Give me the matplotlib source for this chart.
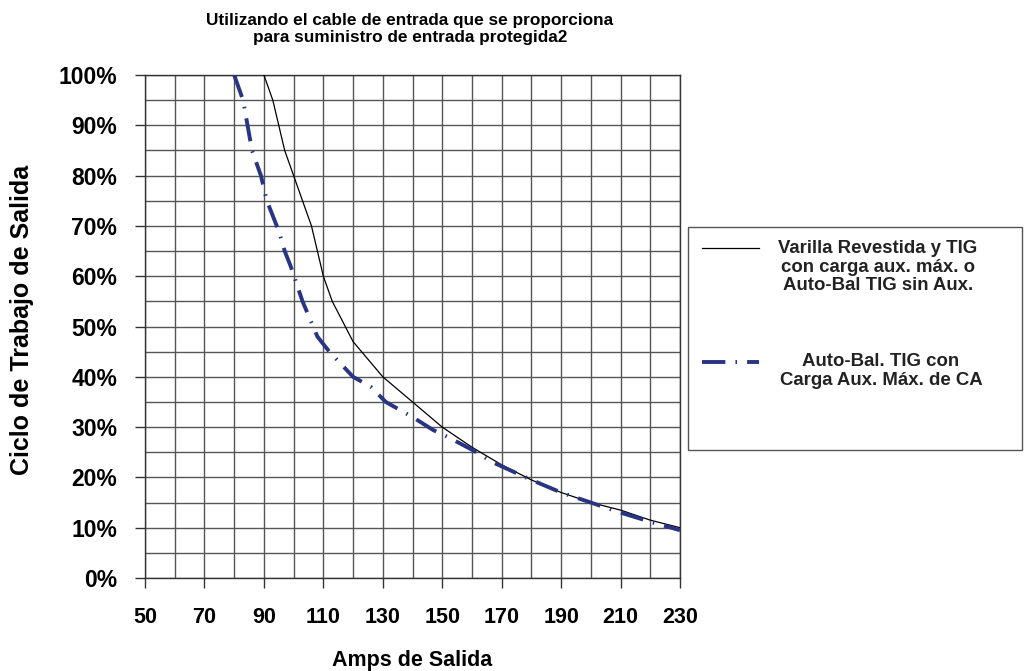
import matplotlib
matplotlib.use("Agg")
import matplotlib.pyplot as plt
from matplotlib.lines import Line2D
from matplotlib.patches import Rectangle
from matplotlib.ticker import MultipleLocator, FuncFormatter

plt.rcParams['font.family'] = ['Liberation Sans', 'DejaVu Sans']
plt.rcParams['font.weight'] = 'bold'

title = "Utilizando el cable de entrada que se proporciona\npara suministro de entrada protegida2"
xlabel = "Amps de Salida"
ylabel = "Ciclo de Trabajo de Salida"
label_a = "Varilla Revestida y TIG\ncon carga aux. máx. o\nAuto-Bal TIG sin Aux."
label_b = "Auto-Bal. TIG con\nCarga Aux. Máx. de CA"

amps_a = [90, 93, 97, 100, 103, 106, 110, 113, 120, 130, 140, 150, 160, 170, 180, 190, 200, 210, 220, 230]
duty_a = [100, 95, 85, 80, 75, 70, 60, 55, 47, 40, 35, 30, 26, 22.5, 19.5, 17, 15, 13.5, 11.5, 10]

amps_b = [80, 83, 86, 89, 91, 93, 95, 97, 99, 103, 108, 112, 120, 126, 131, 140, 147, 152, 160, 167, 180, 190, 200, 210, 221, 230]
duty_b = [100, 95, 85, 80, 75, 72, 69, 65, 62, 55, 48, 45, 40, 38, 35, 32, 29.4, 28, 25.5, 23, 19.5, 17, 15, 13, 11, 9.5]

x_ticks = [50, 70, 90, 110, 130, 150, 170, 190, 210, 230]
y_ticks = [0, 10, 20, 30, 40, 50, 60, 70, 80, 90, 100]

W, H = 1024, 671
fig = plt.figure(figsize=(W / 100, H / 100), dpi=100)
ax = fig.add_axes([145 / W, 1 - 578 / H, (680 - 145) / W, (578 - 75) / H])

blue = '#283583'
dash = (0, (6, 2.6, 0.4, 2.6))
ax.plot(amps_a, duty_a, color='black', lw=0.9, zorder=3)
ax.plot(amps_b, duty_b, color=blue, lw=2.8, linestyle=dash, zorder=4)

ax.set_xlim(50, 230)
ax.set_ylim(0, 100)
ax.set_xticks(x_ticks)
ax.set_yticks(y_ticks)
ax.xaxis.set_minor_locator(MultipleLocator(10))
ax.yaxis.set_minor_locator(MultipleLocator(5))
ax.yaxis.set_major_formatter(FuncFormatter(lambda v, p: f"{int(v)}%"))
ax.grid(True, which='both', color='#555555', lw=1.0, zorder=1)
ax.tick_params(which='major', direction='out', length=7, width=1, color='#333333')
ax.tick_params(which='minor', length=0)
ax.tick_params(axis='x', labelsize=15.5, pad=14)
ax.tick_params(axis='y', labelsize=16.5, pad=13)
for lbl in ax.get_xticklabels() + ax.get_yticklabels():
    lbl.set_fontweight('bold')
for s in ax.spines.values():
    s.set_color('#333333')
    s.set_linewidth(1.0)

ax.set_xlabel(xlabel, fontsize=15.5, fontweight='bold', labelpad=16)
fig.text(22 / W, 1 - 320 / H, ylabel, rotation=90, ha='center', va='center',
         fontsize=18, fontweight='bold')
fig.text(410 / W, 1 - 29 / H, title, ha='center', va='center', fontsize=12.4,
         fontweight='bold', linespacing=1.2)

# legend box
fig.patches.append(Rectangle((688 / W, 1 - 450 / H), (1022 - 688) / W, (450 - 227) / H,
                             transform=fig.transFigure, facecolor='white',
                             edgecolor='#555555', lw=1.0))
fig.lines.append(Line2D([702 / W, 759 / W], [1 - 248 / H, 1 - 248 / H],
                        transform=fig.transFigure, color='black', lw=0.9))
fig.lines.append(Line2D([702 / W, 759 / W], [1 - 362 / H, 1 - 362 / H],
                        transform=fig.transFigure, color=blue, lw=2.8, linestyle=dash))
fig.text(878 / W, 1 - 267 / H, label_a, ha='center', va='center', fontsize=13.4,
         fontweight='bold', linespacing=1.15, color='#222222')
fig.text(881 / W, 1 - 371 / H, label_b, ha='center', va='center', fontsize=13.4,
         fontweight='bold', linespacing=1.15, color='#222222')

fig.savefig('out.png', dpi=100)
